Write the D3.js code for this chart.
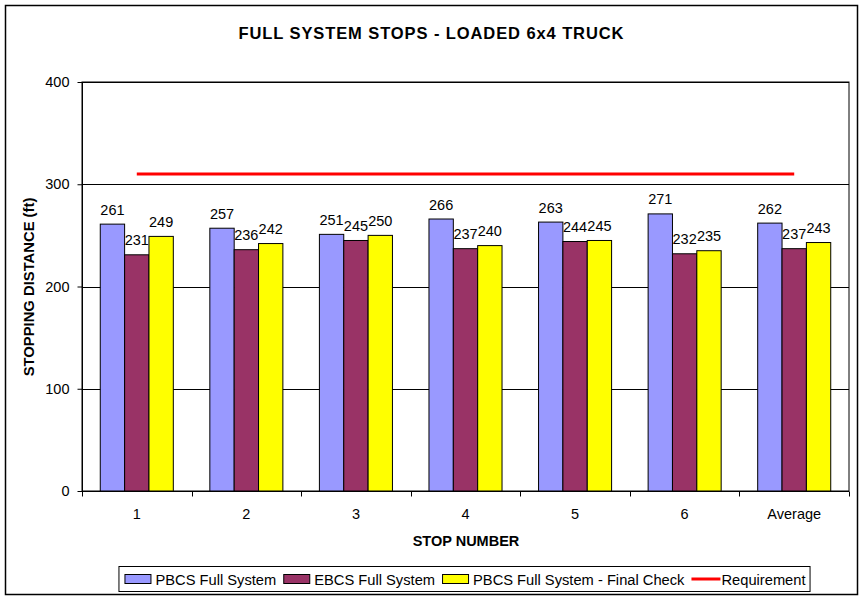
<!DOCTYPE html>
<html>
<head>
<meta charset="utf-8">
<script src="https://cdn.jsdelivr.net/npm/d3@7"></script>
<style>
  body { margin: 0; background: #fff; }
  svg text { font-family: "Liberation Sans", Arial, sans-serif; }
</style>
</head>
<body>
<svg id="chart" width="864" height="600"></svg>
<script>
// Data
const categories = ["1", "2", "3", "4", "5", "6", "Average"];
const seriesNames = ["PBCS Full System", "EBCS Full System", "PBCS Full System - Final Check"];
const pbcsFull = [261, 257, 251, 266, 263, 271, 262];
const ebcsFull = [231, 236, 245, 237, 244, 232, 237];
const pbcsFinal = [249, 242, 250, 240, 245, 235, 243];
const requirement = 310;
const yTicks = [0, 100, 200, 300, 400];

const seriesColors = ["#9999FF", "#993366", "#FFFF00"];
const seriesValues = [pbcsFull, ebcsFull, pbcsFinal];

const svg = d3.select("#chart");
const margin = { left: 82, right: 849, top: 82, bottom: 491 };

// chart area border
svg.append("rect")
    .attr("x", 5.5).attr("y", 5.5)
    .attr("width", 852).attr("height", 589)
    .attr("fill", "#fff")
    .attr("stroke", "#000")
    .attr("stroke-width", 1.5);

// title
svg.append("text")
    .attr("x", 431).attr("y", 39)
    .attr("text-anchor", "middle")
    .style("font-size", "16.5px")
    .style("font-weight", "bold")
    .attr("textLength", 385)
    .attr("lengthAdjust", "spacing")
    .text("FULL SYSTEM STOPS - LOADED 6x4 TRUCK");

const x = d3.scaleBand()
    .domain(categories)
    .range([margin.left, margin.right])
    .paddingInner(0).paddingOuter(0);

const xs = d3.scaleBand()
    .domain(d3.range(seriesNames.length))
    .range([0, x.bandwidth()])
    .paddingInner(0).paddingOuter(0.75);

const y = d3.scaleLinear()
    .domain([0, 400])
    .range([margin.bottom, margin.top]);

// plot area border
svg.append("rect")
    .attr("x", margin.left).attr("y", margin.top)
    .attr("width", margin.right - margin.left)
    .attr("height", margin.bottom - margin.top)
    .attr("fill", "#fff")
    .attr("stroke", "#000");

// gridlines
svg.append("g")
  .selectAll("line")
  .data(yTicks.slice(1))
  .join("line")
    .attr("x1", margin.left).attr("x2", margin.right)
    .attr("y1", d => Math.round(y(d)) + 0.5)
    .attr("y2", d => Math.round(y(d)) + 0.5)
    .attr("stroke", "#000");

// bars
const rows = categories.map((c, i) => ({ cat: c, vals: seriesValues.map(s => s[i]) }));

const groups = svg.append("g")
  .selectAll("g")
  .data(rows)
  .join("g")
    .attr("transform", d => `translate(${x(d.cat)},0)`);

groups.selectAll("rect")
  .data(d => d.vals.map((v, k) => ({ v, k })))
  .join("rect")
    .attr("x", d => xs(d.k))
    .attr("y", d => y(d.v))
    .attr("width", xs.bandwidth())
    .attr("height", d => y(0) - y(d.v))
    .attr("fill", d => seriesColors[d.k])
    .attr("stroke", "#000")
    .attr("stroke-width", 1);

groups.selectAll("text")
  .data(d => d.vals.map((v, k) => ({ v, k })))
  .join("text")
    .attr("x", d => xs(d.k) + xs.bandwidth() / 2)
    .attr("y", d => y(d.v) - 9.5)
    .attr("text-anchor", "middle")
    .style("font-size", "14.5px")
    .text(d => d.v);

// requirement line
const reqLine = d3.line()
    .x(d => x(d) + x.bandwidth() / 2)
    .y(() => y(requirement));

svg.append("path")
    .datum([categories[0], categories[categories.length - 1]])
    .attr("d", reqLine)
    .attr("stroke", "#FF0000")
    .attr("stroke-width", 3)
    .attr("fill", "none");

// y axis
const yAxis = svg.append("g")
    .attr("transform", `translate(${margin.left + 0.5},0)`)
    .call(d3.axisLeft(y).tickValues(yTicks).tickSize(5).tickPadding(8));
yAxis.selectAll("path, line").attr("stroke", "#000");
yAxis.select(".domain").attr("d", `M0,${margin.top}V${margin.bottom}`);
yAxis.selectAll("text")
    .style("font-size", "14.5px")
    .style("font-family", "'Liberation Sans', Arial, sans-serif")
    .attr("fill", "#000");

// x axis
const xAxis = svg.append("g")
    .attr("transform", `translate(0,${margin.bottom + 0.5})`)
    .call(d3.axisBottom(x).tickSize(0).tickPadding(17));
xAxis.select(".domain").attr("stroke", "#000").attr("d", `M${margin.left},0H${margin.right}`);
xAxis.selectAll("text")
    .style("font-size", "14.5px")
    .style("font-family", "'Liberation Sans', Arial, sans-serif")
    .attr("fill", "#000");

// tick marks at category boundaries
const bounds = categories.map(c => x(c)).concat([margin.right]);
xAxis.append("g")
  .selectAll("line")
  .data(bounds)
  .join("line")
    .attr("x1", d => Math.round(d) + 0.5).attr("x2", d => Math.round(d) + 0.5)
    .attr("y1", 0).attr("y2", 5)
    .attr("stroke", "#000");

// axis titles
svg.append("text")
    .attr("x", 466).attr("y", 546)
    .attr("text-anchor", "middle")
    .style("font-size", "14.5px")
    .style("font-weight", "bold")
    .text("STOP NUMBER");

svg.append("text")
    .attr("transform", "translate(34,287) rotate(-90)")
    .attr("text-anchor", "middle")
    .style("font-size", "14.8px")
    .style("font-weight", "bold")
    .text("STOPPING DISTANCE (ft)");

// legend
const legendItems = seriesNames.map((n, k) => ({ name: n, color: seriesColors[k], type: "bar" }))
    .concat([{ name: "Requirement", color: "#FF0000", type: "line" }]);

const legend = svg.append("g");
const legendBox = legend.append("rect")
    .attr("fill", "#fff")
    .attr("stroke", "#000");

let cx = 0;
const items = legend.selectAll("g")
  .data(legendItems)
  .join("g");

items.each(function(d) {
  const g = d3.select(this).attr("transform", `translate(${cx},0)`);
  if (d.type === "bar") {
    g.append("rect")
        .attr("x", 0.5).attr("y", -4.5)
        .attr("width", 26).attr("height", 9)
        .attr("fill", d.color)
        .attr("stroke", "#000");
  } else {
    g.append("line")
        .attr("x1", 0).attr("x2", 29)
        .attr("y1", 0).attr("y2", 0)
        .attr("stroke", d.color)
        .attr("stroke-width", 3);
  }
  const t = g.append("text")
      .attr("x", d.type === "bar" ? 31 : 30)
      .attr("y", 5.5)
      .style("font-size", "14.7px")
      .text(d.name);
  cx += (d.type === "bar" ? 31 : 30) + t.node().getComputedTextLength() + 7;
});

const legendW = cx - 7 + 10;
const legendX = 465 - legendW / 2;
legend.attr("transform", `translate(${legendX + 5},579)`);
legendBox
    .attr("x", -5.5).attr("y", -12.5)
    .attr("width", legendW).attr("height", 25);
</script>
</body>
</html>
